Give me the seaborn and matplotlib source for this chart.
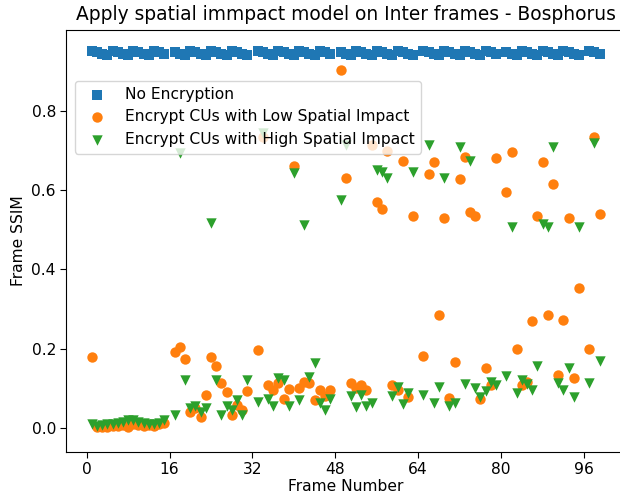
import numpy as np
import pandas as pd
import matplotlib
matplotlib.use("Agg")
import matplotlib.pyplot as plt
import seaborn as sns

# Inter frames only (multiples of 16 are intra frames and are skipped)
frames = [f for f in range(1, 100) if f % 16 != 0]

no_enc = [0.952, 0.948, 0.944, 0.940, 0.952, 0.948, 0.944, 0.940, 0.952, 0.948,
          0.944, 0.940, 0.952, 0.948, 0.944,
          0.948, 0.944, 0.940, 0.952, 0.948, 0.944, 0.940, 0.952, 0.948, 0.944,
          0.940, 0.952, 0.948, 0.944, 0.940,
          0.952, 0.948, 0.944, 0.940, 0.952, 0.948, 0.944, 0.940, 0.952, 0.948,
          0.944, 0.940, 0.952, 0.948, 0.944,
          0.948, 0.944, 0.940, 0.952, 0.948, 0.944, 0.940, 0.952, 0.948, 0.944,
          0.940, 0.952, 0.948, 0.944, 0.940,
          0.952, 0.948, 0.944, 0.940, 0.952, 0.948, 0.944, 0.940, 0.952, 0.948,
          0.944, 0.940, 0.952, 0.948, 0.944,
          0.948, 0.944, 0.940, 0.952, 0.948, 0.944, 0.940, 0.952, 0.948, 0.944,
          0.940, 0.952, 0.948, 0.944, 0.940,
          0.952, 0.948, 0.944]

low_impact = [0.180, 0.001, 0.003, 0.003, 0.005, 0.005, 0.008, 0.003, 0.010, 0.008,
              0.005, 0.008, 0.005, 0.010, 0.012,
              # 17-31
              0.192, 0.205, 0.173, 0.040, 0.050, 0.028, 0.083, 0.180, 0.157, 0.112,
              0.091, 0.032, 0.057, 0.046, 0.093,
              # 33-47
              0.196, 0.735, 0.108, 0.095, 0.112, 0.074, 0.097, 0.660, 0.100, 0.116,
              0.112, 0.070, 0.095, 0.080, 0.095,
              # 49-63
              0.903, 0.630, 0.112, 0.100, 0.108, 0.095, 0.714, 0.570, 0.553, 0.700,
              0.108, 0.095, 0.673, 0.078, 0.535,
              # 65-79
              0.181, 0.642, 0.672, 0.286, 0.530, 0.076, 0.167, 0.627, 0.684, 0.545,
              0.535, 0.074, 0.150, 0.108, 0.680,
              # 81-95
              0.596, 0.697, 0.198, 0.108, 0.116, 0.270, 0.535, 0.672, 0.285, 0.615,
              0.133, 0.272, 0.530, 0.127, 0.352,
              # 97-99
              0.198, 0.735, 0.539]

high_impact = [0.010, 0.005, 0.008, 0.010, 0.010, 0.012, 0.015, 0.020, 0.020, 0.015,
               0.012, 0.010, 0.010, 0.012, 0.020,
               # 17-31
               0.032, 0.693, 0.120, 0.050, 0.055, 0.040, 0.049, 0.516, 0.120, 0.032,
               0.055, 0.045, 0.070, 0.032, 0.120,
               # 33-47
               0.066, 0.744, 0.074, 0.055, 0.125, 0.120, 0.056, 0.643, 0.070, 0.511,
               0.129, 0.163, 0.063, 0.045, 0.072,
               # 49-63
               0.575, 0.714, 0.080, 0.053, 0.083, 0.055, 0.063, 0.650, 0.645, 0.630,
               0.080, 0.104, 0.060, 0.088, 0.645,
               # 65-79
               0.084, 0.714, 0.062, 0.102, 0.631, 0.055, 0.062, 0.710, 0.110, 0.674,
               0.100, 0.078, 0.093, 0.116, 0.108,
               # 81-95
               0.131, 0.506, 0.087, 0.122, 0.110, 0.095, 0.156, 0.514, 0.508, 0.708,
               0.112, 0.095, 0.152, 0.077, 0.506,
               # 97-99
               0.114, 0.720, 0.168]

series_names = ["No Encryption",
                "Encrypt CUs with Low Spatial Impact",
                "Encrypt CUs with High Spatial Impact"]
x_ticks = [0, 16, 32, 48, 64, 80, 96]
y_ticks = [0.0, 0.2, 0.4, 0.6, 0.8]

FS = 11.2
W, H = 620, 495
fig = plt.figure(figsize=(W / 100, H / 100), dpi=100)
L, R, T, B = 66.4, 625.0, 30.0, 451.6
ax = fig.add_axes([L / W, 1 - B / H, (R - L) / W, (B - T) / H])

df = pd.DataFrame({"frame": frames, "a": no_enc, "b": low_impact, "c": high_impact})
sns.scatterplot(data=df, x="frame", y="a", marker="s", color="#1f77b4", s=56,
                linewidth=0, label=series_names[0], ax=ax)
sns.scatterplot(data=df, x="frame", y="b", marker="o", color="#ff7f0e", s=56,
                linewidth=0, label=series_names[1], ax=ax)
sns.scatterplot(data=df, x="frame", y="c", marker="v", color="#2ca02c", s=56,
                linewidth=0, label=series_names[2], ax=ax)

ax.set_xlim(-3.9, 103.9)
ax.set_ylim(-0.060, (427.7 - T) / 396.0)
ax.set_xticks(x_ticks)
ax.set_yticks(y_ticks)
ax.tick_params(labelsize=FS, length=4)
ax.set_xlabel("Frame Number", fontsize=FS, labelpad=1.5)
ax.set_ylabel("Frame SSIM", fontsize=FS)
ax.set_title("Apply spatial immpact model on Inter frames - Bosphorus", fontsize=13.4, pad=7)

leg = ax.legend(loc="upper left",
                bbox_to_anchor=((75 - L) / (R - L), (B - 80.5) / (B - T)),
                borderaxespad=0, fontsize=FS, framealpha=0.8)

fig.savefig("out.png", dpi=100)
